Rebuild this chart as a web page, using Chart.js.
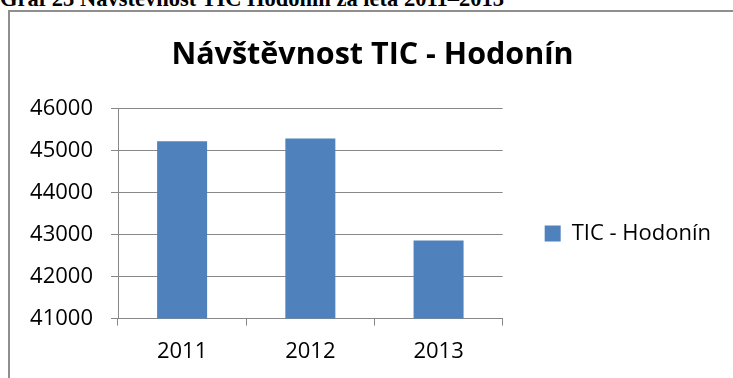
<!DOCTYPE html>
<html lang="cs">
<head>
<meta charset="utf-8">
<title>Návštěvnost TIC - Hodonín</title>
<script src="https://cdn.jsdelivr.net/npm/chart.js@4/dist/chart.umd.min.js"></script>
<style>
  html, body { margin: 0; padding: 0; background: #fff; }
  #page { position: relative; width: 733px; height: 378px; overflow: hidden; background: #fff; }
  #caption {
    position: absolute; left: 0; top: -11px; white-space: nowrap;
    font: bold 22.5px "Liberation Serif", "Times New Roman", serif; line-height: 20px; color: #000;
  }
  #frame {
    position: absolute; left: 8px; top: 10px; width: 800px; height: 400px;
    border-left: 2px solid #8f8f8f; border-top: 2px solid #8f8f8f;
  }
  #chart { position: absolute; left: 0; top: 0; }
</style>
</head>
<body>
<div id="page">
  <div id="caption">Graf 23 Návštěvnost TIC Hodonín za léta 2011–2013</div>
  <div id="frame"></div>
  <canvas id="chart" width="733" height="378"></canvas>
</div>
<script>
// Visitor counts of the Hodonín tourist information centre
const years = ['2011', '2012', '2013'];
const visitors = [45220, 45290, 42860];
const seriesName = 'TIC - Hodonín';
const chartTitle = 'Návštěvnost TIC - Hodonín';
const yMin = 41000;
const yMax = 46000;
const yStep = 1000;

const barBlue = '#4f81bd';
const gridGray = '#888888';
const font = 'Open Sans';

new Chart(document.getElementById('chart'), {
  type: 'bar',
  data: {
    labels: years,
    datasets: [{
      label: seriesName,
      data: visitors,
      backgroundColor: barBlue,
      borderWidth: 0,
      categoryPercentage: 1,
      barPercentage: 0.39
    }]
  },
  options: {
    responsive: false,
    animation: false,
    layout: { padding: { left: 24, right: 12, top: 0, bottom: 0 } },
    plugins: {
      title: {
        display: true,
        text: chartTitle,
        color: '#000',
        font: { family: font, size: 30.5, weight: 'bold', lineHeight: 1.2 },
        padding: { top: 37, bottom: 35 }
      },
      legend: {
        position: 'right',
        fullSize: false,
        maxWidth: 231,
        title: { display: true, text: ' ', font: { size: 10, lineHeight: 1 }, padding: { top: 30, bottom: 0 } },
        labels: {
          boxWidth: 16,
          boxHeight: 16,
          padding: 42,
          color: '#000',
          font: { family: font, size: 22 }
        }
      },
      tooltip: { enabled: false }
    },
    scales: {
      x: {
        grid: { display: true, drawOnChartArea: false, drawTicks: true, tickLength: 7, color: gridGray, offset: true },
        border: { color: gridGray, width: 1 },
        ticks: { color: '#000', padding: 13, font: { family: font, size: 22 } }
      },
      y: {
        min: yMin,
        max: yMax,
        afterFit: (scale) => { scale.width = 94; },
        grid: { color: gridGray, tickLength: 7, drawTicks: true },
        border: { color: gridGray, width: 1 },
        ticks: {
          stepSize: yStep,
          color: '#000',
          padding: 18,
          font: { family: font, size: 22 },
          callback: (value) => String(value)
        }
      }
    }
  }
});
</script>
</body>
</html>
